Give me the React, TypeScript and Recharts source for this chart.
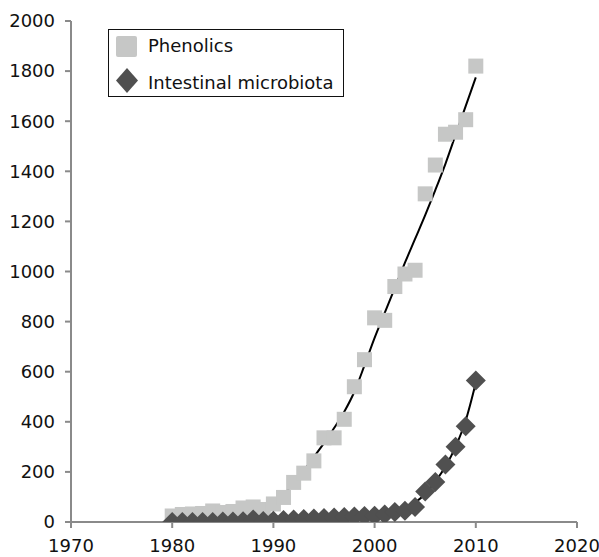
import React from "react";
import {
  ComposedChart,
  Line,
  XAxis,
  YAxis,
  Legend,
} from "recharts";

const years = [
  1980, 1981, 1982, 1983, 1984, 1985, 1986, 1987, 1988, 1989, 1990, 1991,
  1992, 1993, 1994, 1995, 1996, 1997, 1998, 1999, 2000, 2001, 2002, 2003,
  2004, 2005, 2006, 2007, 2008, 2009, 2010,
];

const phenolics = [
  24, 30, 32, 34, 44, 38, 42, 56, 60, 50, 72, 98, 158, 195, 244, 336, 336, 410,
  540, 648, 815, 805, 940, 990, 1005, 1310, 1425, 1548, 1556, 1606, 1820,
];

const microbiota = [
  0, 0, 0, 0, 0, 2, 2, 3, 10, 4, 5, 8, 10, 12, 14, 16, 18, 20, 22, 24, 25, 30,
  40, 45, 60, 122, 160, 230, 300, 382, 565,
];

// trend lines
const phenolicsTrend = [
  22, 28, 30, 30, 30, 31, 33, 38, 46, 60, 78, 110, 155, 205, 260, 315, 375,
  440, 520, 625, 735, 835, 935, 1035, 1130, 1225, 1325, 1430, 1545, 1660, 1775,
];

const microbiotaTrend = [
  4, 4, 4, 4, 4, 5, 5, 6, 6, 7, 8, 9, 10, 11, 12, 13, 15, 17, 19, 22, 25, 30,
  37, 52, 78, 112, 162, 222, 300, 405, 556,
];

const xTicks = [1970, 1980, 1990, 2000, 2010, 2020];
const yTicks = [0, 200, 400, 600, 800, 1000, 1200, 1400, 1600, 1800, 2000];

const table = years.map((year, i) => ({
  year,
  phenolics: phenolics[i],
  microbiota: microbiota[i],
  phenolicsTrend: phenolicsTrend[i],
  microbiotaTrend: microbiotaTrend[i],
}));

const SQUARE = "#c6c7c6";
const DIAMOND = "#505050";
const AXIS = "#8a8a8a";
const FONT = "'DejaVu Sans', sans-serif";

const Square = (p: any) => (
  <rect
    key={`sq-${p.index}`}
    x={p.cx - 7.5}
    y={p.cy - 7.5}
    width={15}
    height={15}
    fill={SQUARE}
  />
);

const Diamond = (p: any) => (
  <polygon
    key={`dm-${p.index}`}
    points={`${p.cx},${p.cy - 10} ${p.cx + 10},${p.cy} ${p.cx},${p.cy + 10} ${p.cx - 10},${p.cy}`}
    fill={DIAMOND}
  />
);

const LegendBox = () => (
  <div
    style={{
      border: "1px solid #111",
      background: "#fff",
      width: 236,
      height: 68,
      boxSizing: "border-box",
      fontFamily: FONT,
      fontSize: 18,
      color: "#111",
      position: "relative",
    }}
  >
    <svg width={24} height={26} style={{ position: "absolute", left: 6, top: 4 }}>
      <rect x={1} y={2} width={21} height={21} rx={2} fill={SQUARE} />
    </svg>
    <span style={{ position: "absolute", left: 39, top: 5 }}>Phenolics</span>
    <svg width={24} height={28} style={{ position: "absolute", left: 6, top: 37 }}>
      <polygon points="12,1 23,13.5 12,26 1,13.5" fill={DIAMOND} />
    </svg>
    <span style={{ position: "absolute", left: 39, top: 42 }}>
      Intestinal microbiota
    </span>
  </div>
);

export default function App() {
  return (
    <div style={{ position: "absolute", left: 0, top: 0, background: "#fff" }}>
      <ComposedChart
        width={599}
        height={557}
        data={table}
        margin={{ top: 21, right: 22, bottom: 5, left: 0 }}
        style={{ overflow: "visible" }}
      >
        <XAxis
          type="number"
          dataKey="year"
          domain={[1970, 2020]}
          ticks={xTicks}
          allowDataOverflow
          height={30}
          stroke={AXIS}
          strokeWidth={2}
          tickSize={6}
          tickMargin={11}
          tick={{ fill: "#111", fontSize: 18, fontFamily: FONT }}
        />
        <YAxis
          type="number"
          domain={[0, 2000]}
          ticks={yTicks}
          allowDataOverflow
          width={71}
          stroke={AXIS}
          strokeWidth={2}
          tickSize={6}
          tickMargin={10}
          tick={{ fill: "#111", fontSize: 18, fontFamily: FONT }}
        />
        <Legend
          layout="vertical"
          align="center"
          verticalAlign="middle"
          wrapperStyle={{ left: 108, top: 29, width: 236, height: 68 }}
          content={() => <LegendBox />}
        />
        <Line
          dataKey="phenolics"
          stroke="none"
          dot={Square}
          activeDot={false}
          isAnimationActive={false}
        />
        <Line
          dataKey="microbiota"
          stroke="none"
          dot={Diamond}
          activeDot={false}
          isAnimationActive={false}
        />
        <Line
          type="monotone"
          dataKey="phenolicsTrend"
          stroke="#000"
          strokeWidth={2}
          dot={false}
          activeDot={false}
          isAnimationActive={false}
        />
        <Line
          type="monotone"
          dataKey="microbiotaTrend"
          stroke="#000"
          strokeWidth={2}
          dot={false}
          activeDot={false}
          isAnimationActive={false}
        />
      </ComposedChart>
    </div>
  );
}
